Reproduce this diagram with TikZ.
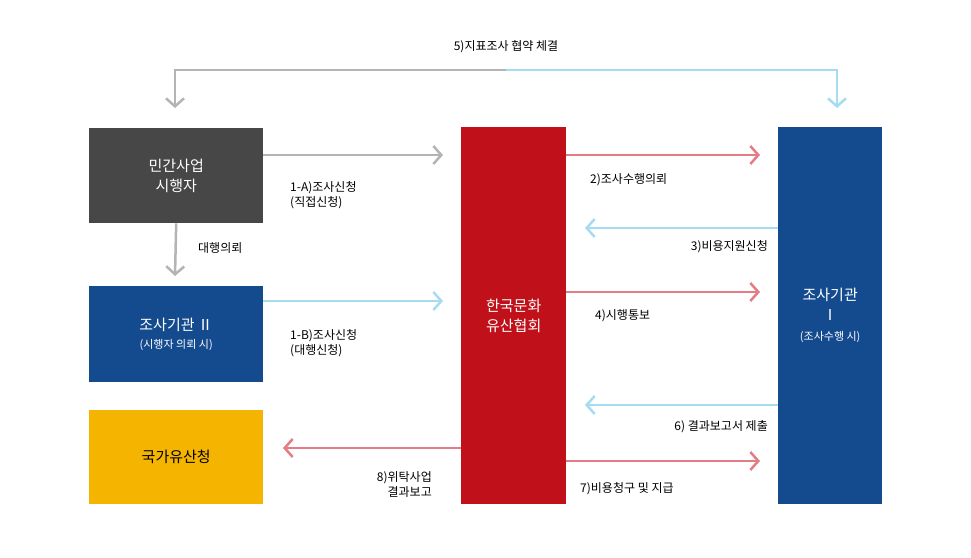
\documentclass[tikz,border=0pt]{standalone}
\usepackage{fontspec}
\setmainfont{Noto Sans CJK KR}
\usetikzlibrary{arrows.meta}
\definecolor{dgray}{HTML}{474747}
\definecolor{dblue}{HTML}{144B8F}
\definecolor{dred}{HTML}{C0101A}
\definecolor{ylw}{HTML}{F5B400}
\definecolor{arrgray}{HTML}{B4B4B4}
\definecolor{arrblue}{HTML}{A6DCF2}
\definecolor{arrred}{HTML}{E47C84}
\tikzset{
 box/.style={draw=none,anchor=north west,inner sep=0pt,align=center,font=\fontsize{15}{20}\selectfont},
 conn/.style={line width=2.5pt,-{Straight Barb[length=8pt,width=18pt,line width=2.5pt]}},
 lbl/.style={font=\fontsize{12}{15}\selectfont,inner sep=0pt},
}
\begin{document}
\begin{tikzpicture}[x=1pt,y=-1pt]
\useasboundingbox (0,0) rectangle (971,557);
\node[box,fill=dgray,text=white,minimum width=174pt,minimum height=95pt] (mg) at (89,128) {민간사업\\시행자};
\node[box,fill=dblue,text=white,minimum width=174pt,minimum height=96pt] (j2) at (89,286) {조사기관 Ⅱ\\[-2pt]{\fontsize{11}{14}\selectfont (시행자 의뢰 시)}};
\node[box,fill=ylw,text=black,minimum width=174pt,minimum height=94pt] (kg) at (89,410) {국가유산청};
\node[box,fill=dred,text=white,minimum width=105pt,minimum height=377pt] (hk) at (461,127) {한국문화\\유산협회};
\node[box,fill=dblue,text=white,minimum width=104pt,minimum height=377pt] (j1) at (778,127) {조사기관\\Ⅰ\\{\fontsize{11}{14}\selectfont (조사수행 시)}};
% top
\coordinate (t1) at (175,70); \coordinate (tm) at (506,70); \coordinate (t2) at (837,70);
\draw[line width=2.5pt,arrgray,-{Straight Barb[length=8pt,width=18pt,line width=2.5pt]}] (tm) -- (t1) -- (175,108);
\draw[line width=2.5pt,arrblue,-{Straight Barb[length=8pt,width=18pt,line width=2.5pt]}] (tm) -- (t2) -- (837,108);
\node[lbl] (l5) at (506,47) {5)지표조사 협약 체결};
% 1-A
\draw[conn,arrgray] (mg.east|-0,155) -- (443,155);
\node[lbl,anchor=west,align=left] (l1a) at (290,195) {1-A)조사신청\\(직접신청)};
\draw[conn,arrgray] (mg.south) -- (175,276);
\node[lbl,anchor=west] (ld) at (198,248) {대행의뢰};
\draw[conn,arrblue] (j2.east|-0,301) -- (443,301);
\node[lbl,anchor=west,align=left] (l1b) at (290,343) {1-B)조사신청\\(대행신청)};
\draw[conn,arrred] (566,155) -- (760,155);
\node[lbl,anchor=west] (l2) at (590,180) {2)조사수행의뢰};
\draw[conn,arrblue] (778,228) -- (585,228);
\node[lbl,anchor=east] (l3) at (768,247) {3)비용지원신청};
\draw[conn,arrred] (566,292) -- (760,292);
\node[lbl,anchor=west] (l4) at (595,316) {4)시행통보};
\draw[conn,arrblue] (778,405) -- (585,405);
\node[lbl,anchor=east] (l6) at (768,427) {6) 결과보고서 제출};
\draw[conn,arrred] (566,461) -- (760,461);
\node[lbl,anchor=west] (l7) at (580,489) {7)비용청구 및 지급};
\draw[conn,arrred] (461,448) -- (283,448);
\node[lbl,anchor=east,align=right] (l8) at (432,484) {8)위탁사업\\결과보고};
\end{tikzpicture}
\end{document}
